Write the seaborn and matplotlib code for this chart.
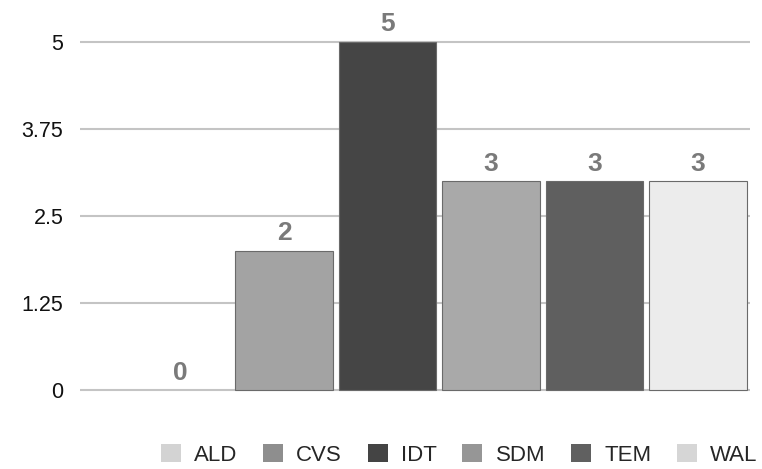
import matplotlib
matplotlib.use("Agg")
import matplotlib.pyplot as plt
import seaborn as sns
import pandas as pd
from matplotlib.patches import Patch

stores = ["ALD", "CVS", "IDT", "SDM", "TEM", "WAL"]
counts = [0, 2, 5, 3, 3, 3]
bar_colors = ["#d3d3d3", "#a3a3a3", "#454545", "#a9a9a9", "#5f5f5f", "#ececec"]
legend_colors = ["#d3d3d3", "#8e8e8e", "#444444", "#969696", "#606060", "#d6d6d6"]
yticks = [0, 1.25, 2.5, 3.75, 5]
ytick_labels = ["0", "1.25", "2.5", "3.75", "5"]

df = pd.DataFrame({"store": stores, "count": counts})

sns.set_style("white")
plt.rcParams["font.family"] = ["Liberation Sans", "DejaVu Sans"]

fig = plt.figure(figsize=(7.62, 4.69), dpi=100)
ax = fig.add_axes([0.105, 0.153, 0.879, 0.787])

sns.barplot(data=df, x="store", y="count", hue="store", palette=bar_colors,
            width=0.94, legend=False, ax=ax, zorder=3,
            edgecolor="#6a6a6a", linewidth=0.8)

# hide the empty bar's outline
for p in ax.patches:
    if p.get_height() == 0:
        p.set_visible(False)

# value labels above each bar
for i, v in enumerate(counts):
    ax.text(i, v + 0.08, str(v), ha="center", va="bottom",
            fontsize=19, fontweight="bold", color="#7a7a7a", zorder=4)

ax.set_xlim(-0.97, 5.5)
ax.set_ylim(-0.1, 5.2)
ax.set_yticks(yticks)
ax.set_yticklabels(ytick_labels)
ax.yaxis.grid(True, color="#c4c4c4", linewidth=1.5, zorder=0)
ax.set_axisbelow(True)
ax.tick_params(axis="y", length=0, pad=12, labelsize=15.5, labelcolor="#111111")
ax.set_xticks([])
ax.set_xlabel("")
ax.set_ylabel("")
sns.despine(ax=ax, left=True, bottom=True)

handles = [Patch(facecolor=c, edgecolor="none") for c in legend_colors]
fig.legend(handles, stores, loc="center right", bbox_to_anchor=(1.0, 0.03),
           ncol=6, frameon=False, fontsize=16, handlelength=0.9,
           handleheight=0.9, handletextpad=0.6, columnspacing=1.15,
           borderaxespad=0.0, borderpad=0.2)

fig.savefig("out.png", dpi=100)
